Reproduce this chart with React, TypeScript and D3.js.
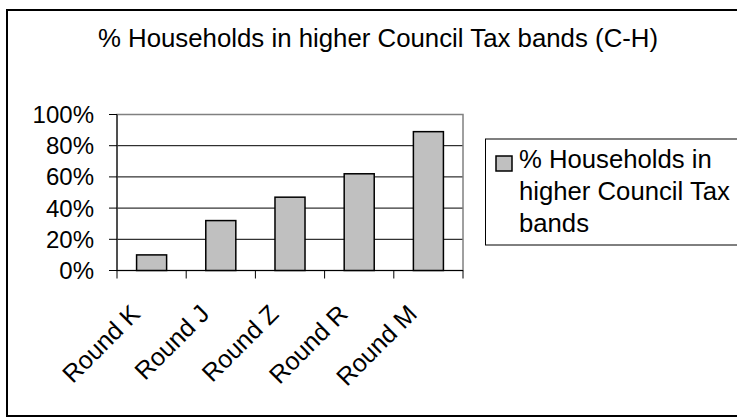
import React from "react";
import * as d3 from "d3";

const categories = ["Round K", "Round J", "Round Z", "Round R", "Round M"];
const values = [10, 32, 47, 62, 89];
const yTicks = [0, 20, 40, 60, 80, 100];
const title = "% Households in higher Council Tax bands (C-H)";
const legendLines = ["% Households in", "higher Council Tax", "bands"];

const W = 737;
const H = 418;
const FONT = "'Liberation Sans', Arial, sans-serif";

export default function App() {
  const plot = { left: 117, right: 463, top: 114.5, bottom: 270.5 };
  const x = d3
    .scaleBand<string>()
    .domain(categories)
    .range([plot.left, plot.right])
    .paddingInner(0.566)
    .paddingOuter(0.283);
  const y = d3.scaleLinear().domain([0, 100]).range([plot.bottom, plot.top]);
  const step = (plot.right - plot.left) / categories.length;
  const fmt = (v: number) => `${v}%`;

  return (
    <svg
      width={W}
      height={H}
      style={{ position: "absolute", left: 0, top: 0, background: "#fff" }}
      fontFamily={FONT}
    >
      <rect x={0} y={0} width={W} height={H} fill="#fff" />
      {/* outer chart frame */}
      <rect x={7} y={10} width={W + 20} height={406} fill="none" stroke="#000" strokeWidth={2} />

      <text x={378} y={47} textAnchor="middle" fontSize={25.8} fill="#000">
        {title}
      </text>

      {/* gridlines */}
      {yTicks
        .filter((t) => t > 0 && t < 100)
        .map((t) => (
          <line key={t} x1={plot.left} x2={plot.right} y1={y(t)} y2={y(t)} stroke="#000" strokeWidth={1} />
        ))}
      {/* plot area border */}
      <rect
        x={plot.left}
        y={plot.top}
        width={plot.right - plot.left}
        height={plot.bottom - plot.top}
        fill="none"
        stroke="#808080"
        strokeWidth={1.5}
      />

      {/* bars */}
      {categories.map((c, i) => (
        <rect
          key={c}
          x={x(c)}
          y={y(values[i])}
          width={x.bandwidth()}
          height={y(0) - y(values[i])}
          fill="#c0c0c0"
          stroke="#000"
          strokeWidth={1.5}
        />
      ))}

      {/* axes */}
      <line x1={plot.left} x2={plot.left} y1={plot.top} y2={plot.bottom} stroke="#000" strokeWidth={1} />
      <line x1={plot.left} x2={plot.right} y1={plot.bottom} y2={plot.bottom} stroke="#000" strokeWidth={1} />
      {yTicks.map((t) => (
        <g key={t}>
          <line x1={plot.left - 8} x2={plot.left} y1={y(t)} y2={y(t)} stroke="#000" strokeWidth={1} />
          <text x={94} y={y(t)} dy="0.35em" textAnchor="end" fontSize={24} fill="#000">
            {fmt(t)}
          </text>
        </g>
      ))}
      {d3.range(categories.length + 1).map((i) => (
        <line
          key={i}
          x1={plot.left + i * step}
          x2={plot.left + i * step}
          y1={plot.bottom}
          y2={plot.bottom + 8}
          stroke="#000"
          strokeWidth={1}
        />
      ))}
      {categories.map((c) => {
        const cx = (x(c) as number) + x.bandwidth() / 2;
        return (
          <text
            key={c}
            transform={`translate(${cx - 10},${plot.bottom + 45}) rotate(-45)`}
            textAnchor="end"
            fontSize={25}
            fill="#000"
          >
            {c}
          </text>
        );
      })}

      {/* legend */}
      <rect x={485.5} y={139} width={W} height={106} fill="#fff" stroke="#000" strokeWidth={1} />
      <rect x={496} y={156} width={16} height={15} fill="#c0c0c0" stroke="#000" strokeWidth={1.5} />
      {legendLines.map((l, i) => (
        <text key={i} x={519} y={168.3 + i * 31.7} fontSize={25.7} fill="#000">
          {l}
        </text>
      ))}
    </svg>
  );
}
